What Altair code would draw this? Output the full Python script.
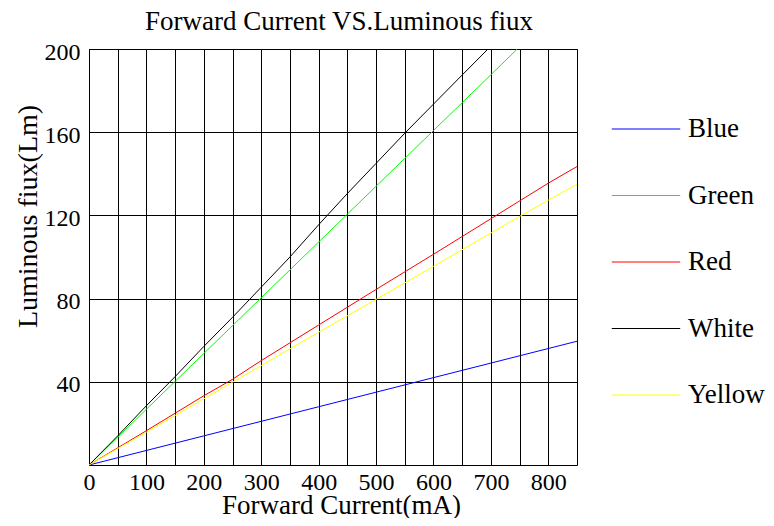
import altair as alt
import pandas as pd

series = ["Blue", "Green", "Red", "White", "Yellow"]
colors = ["#0000ff", "#00ff00", "#ff0000", "#000000", "#ffff00"]

blue_x = [0, 100, 200, 300, 400, 500, 600, 700, 800, 850]
blue_y = [0, 7, 14, 21, 28, 35, 42, 49, 56, 59.5]

green_x = [0, 100, 150, 200, 250, 300, 350, 400, 450, 500, 550, 600, 650, 700, 746]
green_y = [0, 26.8, 40.2, 53.6, 67, 80.4, 93.8, 107.2, 120.6, 134, 147.4, 160.8, 174.2, 187.6, 200]

red_x = [0, 100, 200, 250, 300, 400, 500, 600, 700, 800, 850]
red_y = [0, 16.5, 33.3, 41.2, 50.2, 67.3, 84.4, 101.3, 118.4, 135.5, 143.5]

white_x = [0, 50, 100, 150, 200, 250, 300, 350, 400, 450, 500, 550, 600, 650, 695]
white_y = [0, 14, 28.5, 42.5, 57, 71, 85.5, 100, 115.5, 130.5, 145, 159.5, 173.5, 187.5, 200]

yellow_x = [0, 100, 200, 250, 300, 400, 500, 600, 700, 750, 800, 850]
yellow_y = [0, 15.8, 31.8, 39.8, 47.8, 63.8, 79.6, 95.5, 111.5, 119.5, 127.3, 135]

x_grid = [0, 50, 100, 150, 200, 250, 300, 350, 400, 450, 500, 550, 600, 650, 700, 750, 800]
y_ticks = [40, 80, 120, 160, 200]

rows = []
for name, xs, ys in [("Blue", blue_x, blue_y), ("Green", green_x, green_y),
                     ("Red", red_x, red_y), ("White", white_x, white_y),
                     ("Yellow", yellow_x, yellow_y)]:
    for a, b in zip(xs, ys):
        rows.append({"series": name, "current": a, "flux": b})
df = pd.DataFrame(rows)

FONT = "Liberation Serif"

chart = alt.Chart(df).mark_line(strokeWidth=1, clip=True).encode(
    x=alt.X("current:Q",
            scale=alt.Scale(domain=[0, 850], nice=False, zero=True),
            axis=alt.Axis(values=x_grid,
                          labelExpr="datum.value % 100 == 0 ? datum.label : ''",
                          title="Forward Current(mA)",
                          titleX=252, titleY=48, titleBaseline="alphabetic",
                          labelPadding=5, labelFlush=False, labelOverlap=False)),
    y=alt.Y("flux:Q",
            scale=alt.Scale(domain=[0, 200], nice=False),
            axis=alt.Axis(values=y_ticks, title="Luminous fiux(Lm)",
                          titleX=-53, titleY=167, titleBaseline="alphabetic",
                          titleAlign="center", titleFontSize=28,
                          labelPadding=9, labelOffset=3, labelFlush=False)),
    color=alt.Color("series:N",
                    scale=alt.Scale(domain=series, range=colors),
                    legend=alt.Legend(title=None, orient="none", legendX=522, legendY=45,
                                      symbolType="stroke", symbolSize=4680,
                                      symbolStrokeWidth=1, labelFont=FONT,
                                      labelFontSize=27, labelOffset=7, rowPadding=18.5,
                                      labelColor="black")),
).properties(
    width=488, height=416,
    title=alt.TitleParams("Forward Current VS.Luminous fiux", font=FONT, fontSize=27,
                          fontWeight="normal", color="black", dx=6, offset=4),
    padding={"left": 81, "top": 41, "right": 189, "bottom": 53},
    autosize=alt.AutoSizeParams(type="none"),
).configure_view(
    stroke="black", strokeWidth=1
).configure_axis(
    grid=True, gridColor="black", gridOpacity=1, gridWidth=1,
    ticks=False, domain=False,
    labelFont=FONT, labelFontSize=24, labelColor="black",
    titleFont=FONT, titleFontSize=27, titleFontWeight="normal", titleColor="black",
)

chart.save("out.html", embed_options={"renderer": "svg", "actions": False})
